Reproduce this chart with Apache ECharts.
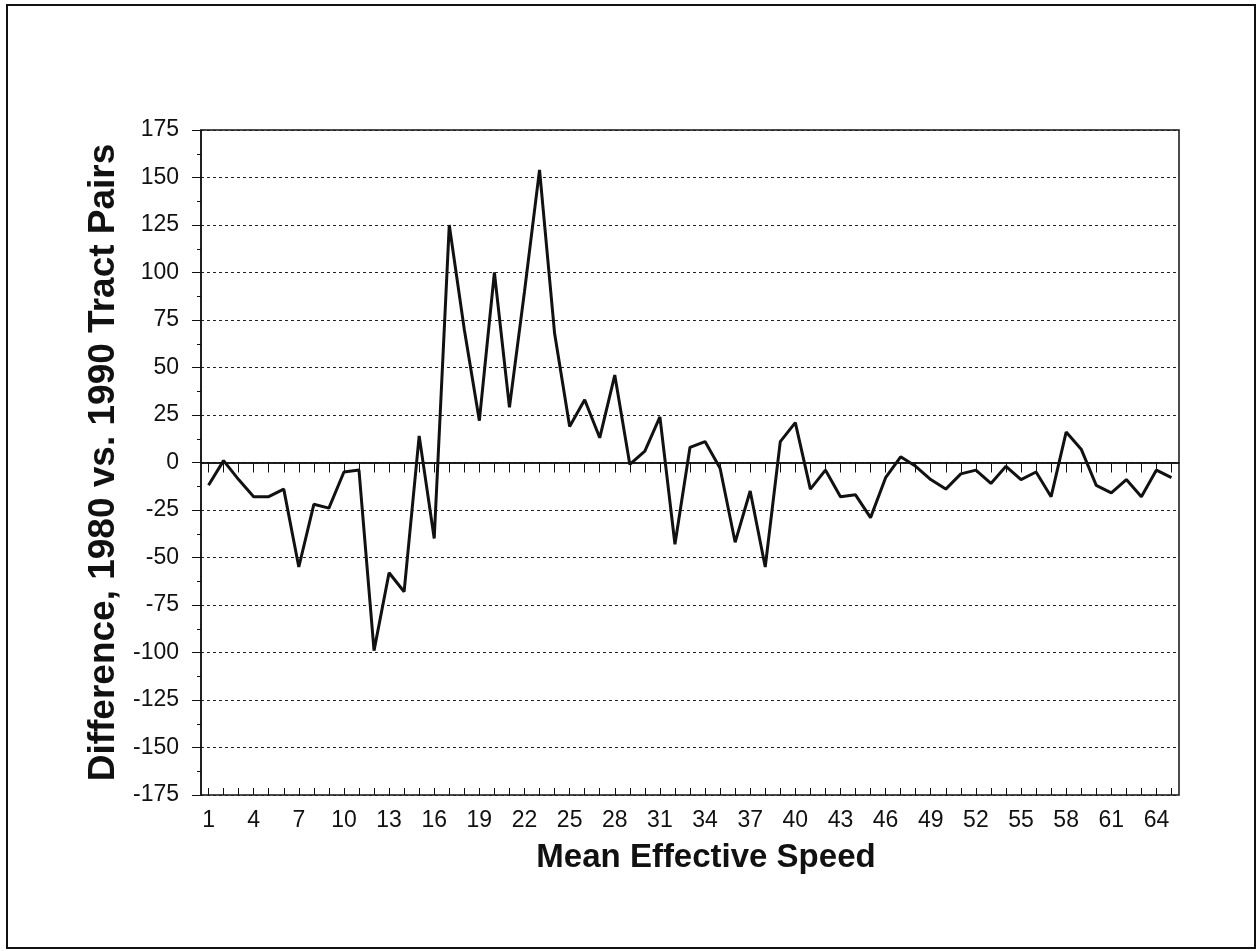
<!DOCTYPE html>
<html>
<head>
<meta charset="utf-8">
<script src="https://cdn.jsdelivr.net/npm/echarts@6/dist/echarts.min.js"></script>
<style>
html,body{margin:0;padding:0;background:#fff;}
#chart{width:1257px;height:951px;}
</style>
</head>
<body>
<div id="chart"></div>
<script>
const categories = [];
for (let i = 1; i <= 65; i++) categories.push(String(i));
const differences = [
  -12, 1, -9, -18, -18, -14, -55, -22, -24, -5,
  -4, -99, -58, -68, 14, -40, 125, 70, 22, 100,
  29, 90, 154, 68, 19, 33, 13, 46, -1, 6,
  24, -43, 8, 11, -3, -42, -15, -55, 11, 21,
  -14, -4, -18, -17, -29, -8, 3, -2, -9, -14,
  -6, -4, -11, -2, -9, -5, -18, 16, 7, -12,
  -16, -9, -18, -4, -8
];
const yTitle = 'Difference, 1980 vs. 1990 Tract Pairs';
const xTitle = 'Mean Effective Speed';

const font = 'Liberation Sans, Arial, sans-serif';
const chart = echarts.init(document.getElementById('chart'));
chart.setOption({
  animation: false,
  backgroundColor: '#fff',
  graphic: [{
    type: 'rect', shape: {x: 7, y: 5, width: 1248, height: 943},
    style: {fill: 'none', stroke: '#111', lineWidth: 2}, silent: true
  }],
  grid: {left: 201, top: 130, right: 78, bottom: 156, show: true, borderColor: '#111', borderWidth: 1.5},
  xAxis: [{
    type: 'category', data: categories, boundaryGap: true,
    name: xTitle, nameLocation: 'middle', nameGap: 46,
    nameTextStyle: {fontFamily: font, fontWeight: 'bold', fontSize: 33, color: '#111', padding: [0, 0, 0, 32]},
    axisLine: {show: true, lineStyle: {color: '#111', width: 1.5}},
    axisTick: {show: true, alignWithLabel: true, interval: 0, length: 10, lineStyle: {color: '#111', width: 1}},
    axisLabel: {interval: 2, margin: 14, fontFamily: font, fontSize: 23, color: '#111'},
    splitLine: {show: false}
  }, {
    type: 'category', data: categories, boundaryGap: true, position: 'bottom',
    axisLine: {show: false},
    axisTick: {show: true, inside: true, alignWithLabel: true, interval: 0, length: 7, lineStyle: {color: '#111', width: 1}},
    axisLabel: {show: false},
    splitLine: {show: false}
  }],
  yAxis: {
    type: 'value', min: -175, max: 175, interval: 25,
    name: yTitle, nameLocation: 'middle', nameGap: 78,
    nameTextStyle: {fontFamily: font, fontWeight: 'bold', fontSize: 37, color: '#111'},
    axisLine: {show: true, lineStyle: {color: '#111', width: 1.5}},
    axisTick: {show: true, length: 9, lineStyle: {color: '#111', width: 1}},
    minorTick: {show: true, splitNumber: 2, length: 4, lineStyle: {color: '#111', width: 1}},
    axisLabel: {margin: 22, fontFamily: font, fontSize: 23, color: '#111'},
    splitLine: {show: true, lineStyle: {color: '#222', width: 1, type: [3, 3]}}
  },
  series: [{
    type: 'line', data: differences, xAxisIndex: 0,
    symbol: 'none', smooth: false,
    lineStyle: {color: '#111', width: 3},
    markLine: {
      silent: true, symbol: 'none', label: {show: false},
      lineStyle: {color: '#111', width: 1.5, type: 'solid'},
      data: [{yAxis: 0}]
    }
  }]
});
</script>
</body>
</html>
